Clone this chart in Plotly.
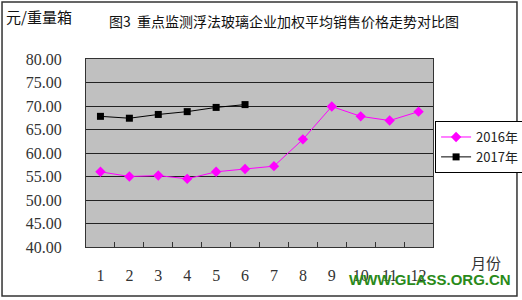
import plotly.graph_objects as go

months = ["1", "2", "3", "4", "5", "6", "7", "8", "9", "10", "11", "12"]
y2016 = [56.0, 55.0, 55.2, 54.5, 56.0, 56.6, 57.2, 62.9, 69.9, 67.8, 66.9, 68.8]
months2017 = ["1", "2", "3", "4", "5", "6"]
y2017 = [67.8, 67.4, 68.2, 68.8, 69.7, 70.3]
ytick_vals = [40, 45, 50, 55, 60, 65, 70, 75, 80]
ytick_text = ["40.00", "45.00", "50.00", "55.00", "60.00", "65.00", "70.00", "75.00", "80.00"]

CJK = "Noto Sans CJK SC"
NUM = "Liberation Serif"

fig = go.Figure()
fig.add_trace(go.Scatter(x=months, y=y2016, name="2016年", mode="lines+markers",
                         line=dict(color="#ff00ff", width=1),
                         marker=dict(symbol="diamond", size=8, color="#ff00ff")))
fig.add_trace(go.Scatter(x=months2017, y=y2017, name="2017年", mode="lines+markers",
                         line=dict(color="#000000", width=1),
                         marker=dict(symbol="square", size=7, color="#000000")))

fig.update_layout(
    width=522, height=300,
    margin=dict(l=86, r=89, t=59, b=53, autoexpand=False),
    paper_bgcolor="white", plot_bgcolor="#c0c0c0",
    showlegend=True,
    legend=dict(x=1.006, y=0.67, xanchor="left", yanchor="top",
                bgcolor="white", bordercolor="black", borderwidth=1,
                font=dict(family=CJK, size=13, color="#222"),
                tracegroupgap=0, itemwidth=30),
    xaxis=dict(type="category", categoryorder="array", categoryarray=months,
               range=[-0.5, 11.5], showgrid=False, zeroline=False,
               ticks="inside", tickson="boundaries", ticklen=5, tickcolor="#333",
               showline=True, linecolor="#333", linewidth=1, mirror=True,
               tickfont=dict(family=NUM, size=16, color="#333"),
               ticklabelstandoff=14),
    yaxis=dict(range=[40, 80], tickvals=ytick_vals, ticktext=ytick_text,
               showgrid=True, gridcolor="#222", gridwidth=1, zeroline=False,
               showline=True, linecolor="#333", linewidth=1, mirror=True,
               ticks="", tickfont=dict(family=NUM, size=16, color="#333"),
               ticklabelstandoff=20),
    annotations=[
        dict(text="图3  重点监测浮法玻璃企业加权平均销售价格走势对比图", xref="paper", yref="paper",
             x=0.572, y=1.20, xanchor="center", yanchor="middle", showarrow=False,
             font=dict(family=CJK, size=14, color="#111")),
        dict(text="元/重量箱", xref="paper", yref="paper",
             x=-0.235, y=1.225, xanchor="left", yanchor="middle", showarrow=False,
             font=dict(family=CJK, size=15, color="#111")),
        dict(text="月份", xref="paper", yref="paper",
             x=1.105, y=-0.08, xanchor="left", yanchor="middle", showarrow=False,
             font=dict(family=CJK, size=15, color="#333")),
        dict(text="<b>WWW.GLASS.ORG.CN</b>", xref="paper", yref="paper",
             x=1.23, y=-0.175, xanchor="right", yanchor="middle", showarrow=False,
             font=dict(family="Liberation Sans", size=15, color="#2a8a1a")),
    ],
    shapes=[dict(type="rect", xref="paper", yref="paper",
                 x0=-0.242, x1=1.242, y0=-0.261, y1=1.303,
                 line=dict(color="#333", width=1.5), fillcolor="rgba(0,0,0,0)", layer="below")],
)

fig.write_html("out.html")
